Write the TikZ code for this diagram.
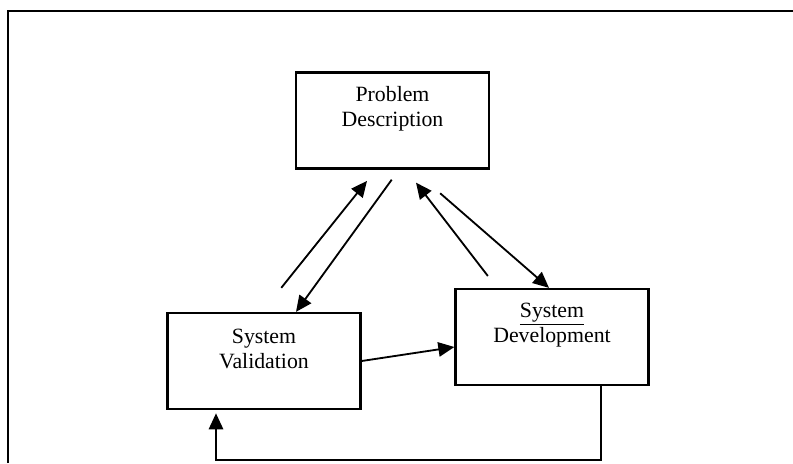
\documentclass[tikz,border=0pt]{standalone}
\usepackage{fontspec}
\setmainfont{Liberation Serif}
\usetikzlibrary{calc,arrows.meta}
\tikzset{
  box/.style={draw=black, line width=1.6pt, minimum width=4.825cm, minimum height=2.4cm, inner sep=0pt},
  boxtext/.style={align=center, font=\fontsize{15.5}{17.8}\selectfont, yshift=0.29cm},
  arr/.style={-{Triangle[length=4mm,width=3.6mm]}, line width=1.3pt},
  framing/.style={draw=black, line width=1.5pt}
}
\begin{document}
\begin{tikzpicture}[x=0.025cm, y=-0.025cm]
  \useasboundingbox (0,0) rectangle (793,463);
  \draw[framing] (8,463) -- (8,11) -- (793,11);

  \node[box, label={[boxtext]center:Problem\\Description}] (pd) at (392.5,120.5) {};
  \node[box, label={[boxtext]center:System\\Validation}] (sv) at (264,361) {};
  \node[box, label={[boxtext]center:\underline{System}\\Development}] (sd) at (552,337) {};

  \draw[arr, shorten <=0.77cm, shorten >=0.36cm] ($(sv.north)+(-2,0)$) -- ($(pd.south)+(-16.5,0)$);
  \draw[arr, shorten <=0.31cm] ($(pd.south)+(6.5,0)$) -- ($(sv.north)+(32,0)$);
  \draw[arr, shorten <=0.375cm, shorten >=0.41cm] ($(sd.north)+(-55,0)$) -- ($(pd.south)+(13.5,0)$);
  \draw[arr, shorten <=0.9cm] ($(pd.south)+(20.5,0)$) -- ($(sd.north)+(-3,0)$);
  \draw[arr] (sv.east) -- ($(sd.west)+(0,10)$);
  \draw[arr, shorten >=0.08cm] ($(sd.south)+(49,0)$) -- ++(0,74) -| ($(sv.south)+(-48,0)$);
\end{tikzpicture}
\end{document}
